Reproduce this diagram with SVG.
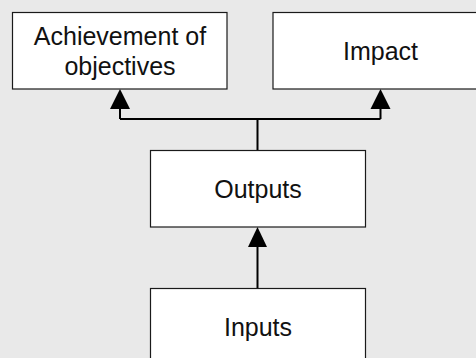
<svg xmlns="http://www.w3.org/2000/svg" width="476" height="358" viewBox="0 0 476 358">
  <style>
    .box { fill: #ffffff; stroke: #1a1a1a; stroke-width: 1.2; }
    .label { font-family: "Liberation Sans", Arial, sans-serif; font-size: 25px; fill: #111111; text-anchor: middle; }
    .wire { fill: none; stroke: #000000; stroke-width: 2; }
    .head { fill: #000000; }
  </style>
  <rect width="476" height="358" fill="#e9e9e9"/>

  <g id="connectors">
    <!-- Outputs branches up to both top boxes -->
    <path class="wire" d="M257.5 151 V119 M120 119 H380.5 M120 119 V104 M380.5 119 V104"/>
    <polygon class="head" points="120,89 110,109 130,109"/>
    <polygon class="head" points="380.5,89 370.5,109 390.5,109"/>
    <!-- Inputs feed Outputs -->
    <path class="wire" d="M257.5 288.5 V242"/>
    <polygon class="head" points="257.5,227 248,247 267,247"/>
  </g>

  <g id="achievement">
    <rect class="box" x="12.5" y="12.5" width="214.5" height="76.5"/>
    <text class="label" x="120" y="45">Achievement of</text>
    <text class="label" x="120" y="75">objectives</text>
  </g>

  <g id="impact">
    <rect class="box" x="273" y="12.5" width="215" height="76.5"/>
    <text class="label" x="380.5" y="60">Impact</text>
  </g>

  <g id="outputs">
    <rect class="box" x="150.5" y="150.5" width="215" height="76.5"/>
    <text class="label" x="258" y="198">Outputs</text>
  </g>

  <g id="inputs">
    <rect class="box" x="150.5" y="288.5" width="215" height="77"/>
    <text class="label" x="258" y="336">Inputs</text>
  </g>
</svg>
